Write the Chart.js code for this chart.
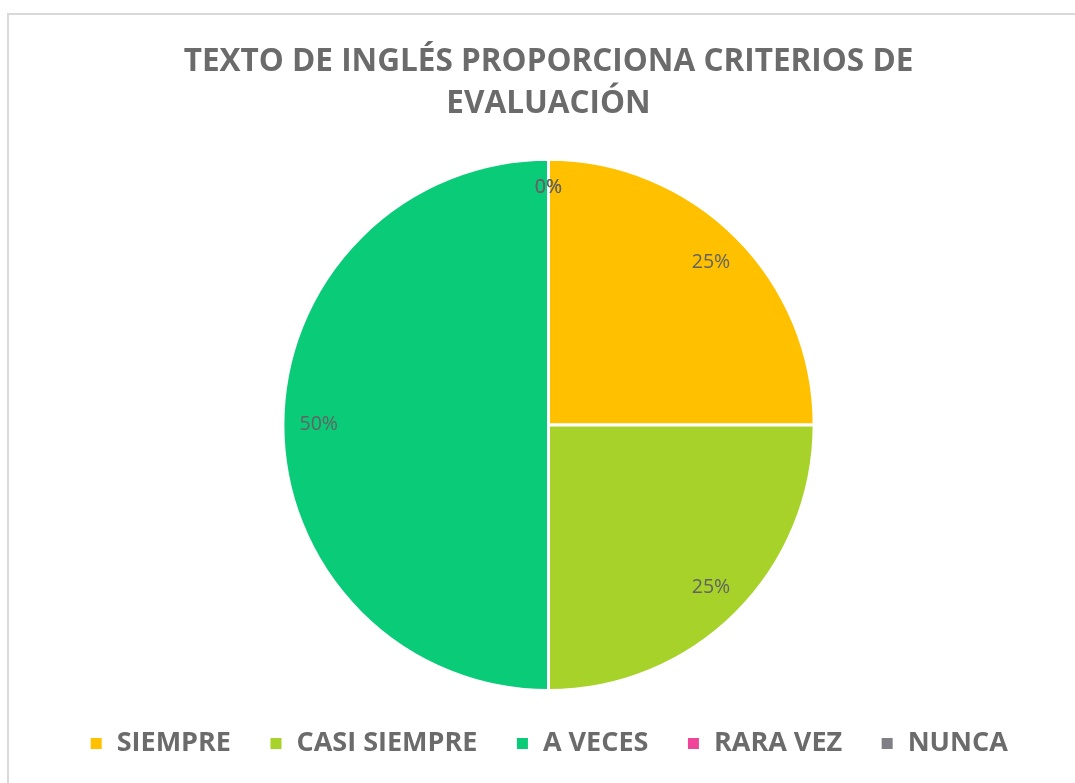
<!DOCTYPE html>
<html>
<head>
<meta charset="utf-8">
<script src="https://cdn.jsdelivr.net/npm/chart.js@4"></script>
<style>
  html, body { margin: 0; padding: 0; background: #fff; overflow: hidden; }
  #frame { position: absolute; left: 7px; top: 13px; width: 1200px; height: 900px; border: 2px solid #d9d9d9; box-sizing: border-box; }
  #wrap { position: absolute; left: 0; top: 0; width: 1075px; height: 783px; }
</style>
</head>
<body>
<div id="frame"></div>
<div id="wrap"><canvas id="myChart"></canvas></div>
<script>
// values
var categories = ['SIEMPRE', 'CASI SIEMPRE', 'A VECES', 'RARA VEZ', 'NUNCA'];
var values = [1, 1, 2, 0, 0];
var colors = ['#ffc000', '#a6d22a', '#0acb78', '#f0449a', '#7f7f85'];
var titleLines = ['TEXTO DE INGLÉS PROPORCIONA CRITERIOS DE', 'EVALUACIÓN'];

var fontFam = "'Open Sans', sans-serif";

// percent labels inside slices
var pctLabels = {
    id: 'pctLabels',
    afterDatasetsDraw: function (chart) {
        var ctx = chart.ctx;
        var meta = chart.getDatasetMeta(0);
        var total = values.reduce(function (a, b) { return a + b; }, 0);
        ctx.save();
        ctx.font = "19.5px 'Open Sans', sans-serif";
        ctx.fillStyle = '#636363';
        ctx.textAlign = 'center';
        ctx.textBaseline = 'middle';
        meta.data.forEach(function (arc, i) {
            var p = arc.getProps(['x', 'y', 'startAngle', 'endAngle', 'outerRadius'], true);
            var mid = (p.startAngle + p.endAngle) / 2;
            var r = p.outerRadius * (values[i] === 0 ? 0.895 : 0.865);
            var pct = Math.round(values[i] / total * 100) + '%';
            ctx.fillText(pct, p.x + Math.cos(mid) * r, p.y + Math.sin(mid) * r);
        });
        ctx.restore();
    }
};

var ctx1 = document.getElementById('myChart').getContext('2d');
var myChart = new Chart(ctx1, {
    type: 'pie',
    data: {
        labels: categories,
        datasets: [{
            data: values,
            backgroundColor: colors,
            borderColor: '#ffffff',
            borderWidth: 3
        }]
    },
    options: {
        responsive: true,
        maintainAspectRatio: false,
        animation: false,
        layout: { padding: { top: 41, bottom: 16, left: 22, right: 0 } },
        plugins: {
            title: {
                display: true,
                text: titleLines,
                color: '#6b6b6b',
                font: { family: fontFam, size: 31.5, weight: 'bold', lineHeight: 1.33 },
                padding: { top: 0, bottom: 33 }
            },
            legend: {
                position: 'bottom',
                labels: {
                    color: '#6b6b6b',
                    font: { family: fontFam, size: 27, weight: 'bold' },
                    boxWidth: 14,
                    boxHeight: 14,
                    padding: 38
                }
            },
            tooltip: { enabled: false }
        }
    },
    plugins: [pctLabels]
});
</script>
</body>
</html>
